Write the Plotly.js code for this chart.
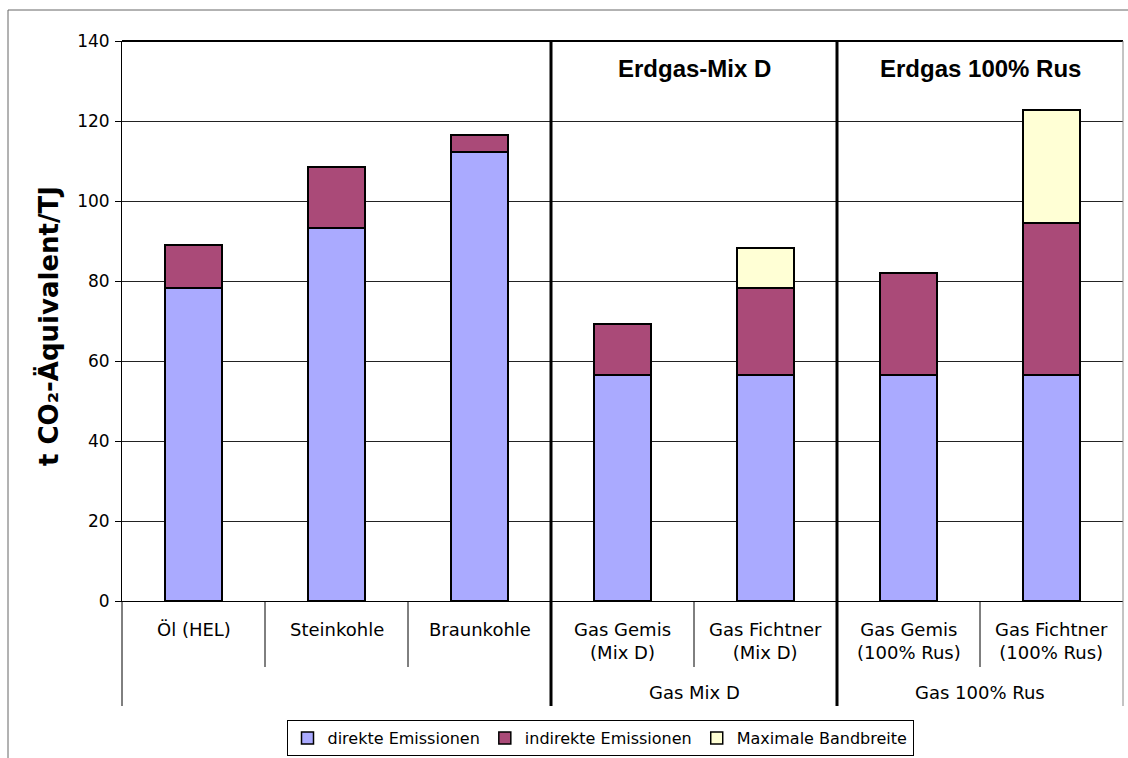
<!DOCTYPE html>
<html>
<head>
<meta charset="utf-8">
<script src="https://cdn.plot.ly/plotly-3.0.1.min.js"></script>
<style>
html,body{margin:0;padding:0;background:#fff;}
#chart{width:1128px;height:758px;}
</style>
</head>
<body>
<div id="chart"></div>
<script>
// ---- data ----
const categories = ["Öl (HEL)", "Steinkohle", "Braunkohle", "Gas Gemis<br>(Mix D)", "Gas Fichtner<br>(Mix D)", "Gas Gemis<br>(100% Rus)", "Gas Fichtner<br>(100% Rus)"];
const direkteEmissionen = [78.25, 93.25, 112.25, 56.5, 56.5, 56.5, 56.5];
const indirekteEmissionen = [10.75, 15.25, 4.25, 12.75, 21.75, 25.5, 38];
const maximaleBandbreite = [null, null, null, null, 10, null, 28.25];
const seriesNames = ["direkte Emissionen", "indirekte Emissionen", "Maximale Bandbreite"];
const groupLabels = ["", "Gas Mix D", "Gas 100% Rus"];
const groupHeadings = ["", "Erdgas-Mix D", "Erdgas 100% Rus"];
const groupMembers = [[0, 1, 2], [3, 4], [5, 6]];
const yTicks = [0, 20, 40, 60, 80, 100, 120, 140];
const yAxisTitle = "t CO\u2082-Äquivalent/TJ";

// ---- styling ----
const colors = ["#AAAAFF", "#AA4A78", "#FFFFD5"];
const font = "DejaVu Sans, Verdana, sans-serif";
const boldFont = "Liberation Sans, Arial, sans-serif";

const traces = [direkteEmissionen, indirekteEmissionen, maximaleBandbreite].map((vals, i) => ({
  type: "bar",
  name: seriesNames[i],
  x: categories,
  y: vals,
  marker: {color: colors[i], line: {color: "#000", width: 1.5}},
  hoverinfo: "skip"
}));

const L = 122, R = 1123, T = 41, B = 601, W = 1128, H = 758;
const py = v => (B - v) / (B - T); // pixel y -> paper y
const px = v => (v - L) / (R - L); // pixel x -> paper x

const shapes = [];
const annotations = [];
const n = categories.length;

// outer frame (top + left)
shapes.push({type: "line", xref: "paper", yref: "paper", x0: px(8), x1: px(1130), y0: py(10), y1: py(10), line: {color: "#666", width: 1}});
shapes.push({type: "line", xref: "paper", yref: "paper", x0: px(8), x1: px(8), y0: py(10), y1: py(760), line: {color: "#666", width: 1}});
// top border of plot area
shapes.push({type: "line", xref: "paper", yref: "paper", x0: 0, x1: 1, y0: 1, y1: 1, line: {color: "#000", width: 2}});
// right border of plot area extended into label area
shapes.push({type: "line", xref: "paper", yref: "paper", x0: 1, x1: 1, y0: 1, y1: py(706), line: {color: "#888", width: 1}});
// left axis extended down into label area
shapes.push({type: "line", xref: "paper", yref: "paper", x0: 0, x1: 0, y0: 0, y1: py(706), line: {color: "#000", width: 1}});

// separators between categories within groups (short) and group borders (thick)
groupMembers.forEach((members, g) => {
  for (let k = 0; k < members.length - 1; k++) {
    const xb = members[k] + 0.5;
    shapes.push({type: "line", xref: "x", yref: "paper", x0: xb, x1: xb, y0: 0, y1: py(667), line: {color: "#000", width: 1}});
  }
  if (g > 0) {
    const xb = members[0] - 0.5;
    shapes.push({type: "line", xref: "x", yref: "paper", x0: xb, x1: xb, y0: 1, y1: py(706), line: {color: "#000", width: 3}});
  }
  const center = (members[0] + members[members.length - 1]) / 2;
  if (groupLabels[g]) {
    annotations.push({xref: "x", yref: "paper", x: center, y: py(692), text: groupLabels[g], showarrow: false,
      xanchor: "center", yanchor: "middle", font: {family: font, size: 18, color: "#000"}});
  }
  if (groupHeadings[g]) {
    annotations.push({xref: "x", yref: "paper", x: center, y: py(68), text: "<b>" + groupHeadings[g] + "</b>", showarrow: false,
      xanchor: "center", yanchor: "middle", font: {family: boldFont, size: 24, color: "#000"}});
  }
});

// category labels
categories.forEach((c, i) => {
  annotations.push({xref: "x", yref: "paper", x: i, y: py(617), text: c, showarrow: false,
    xanchor: "center", yanchor: "top", font: {family: font, size: 18, color: "#000"}});
});

// y-axis title
annotations.push({xref: "paper", yref: "paper", x: px(48), y: py(326), text: "<b>" + yAxisTitle + "</b>", textangle: -90,
  showarrow: false, xanchor: "center", yanchor: "middle", font: {family: font, size: 26, color: "#000"}});

const layout = {
  width: W, height: H,
  margin: {l: L, r: W - R, t: T, b: H - B, pad: 0, autoexpand: false},
  paper_bgcolor: "#fff", plot_bgcolor: "#fff",
  barmode: "stack", bargap: 0.6,
  showlegend: true,
  legend: {orientation: "h", x: px(600), xanchor: "center", y: py(720), yanchor: "top",
    bordercolor: "#000", borderwidth: 1, font: {family: font, size: 16, color: "#000"},
    traceorder: "normal", itemwidth: 30, tracegroupgap: 0, valign: "middle"},
  xaxis: {type: "category", showticklabels: false, ticks: "", showgrid: false, zeroline: false,
    showline: true, linecolor: "#000", linewidth: 1, range: [-0.5, n - 0.5], fixedrange: true},
  yaxis: {range: [0, 140], tickvals: yTicks, ticktext: yTicks.map(String), ticks: "outside", ticklen: 6,
    tickcolor: "#000", showline: true, linecolor: "#000", linewidth: 1, showgrid: true, gridcolor: "#222",
    gridwidth: 1, zeroline: false, tickfont: {family: font, size: 17, color: "#000"}, ticklabelstandoff: 2, fixedrange: true},
  shapes: shapes,
  annotations: annotations
};

Plotly.newPlot("chart", traces, layout, {displayModeBar: false, staticPlot: true});
</script>
</body>
</html>
